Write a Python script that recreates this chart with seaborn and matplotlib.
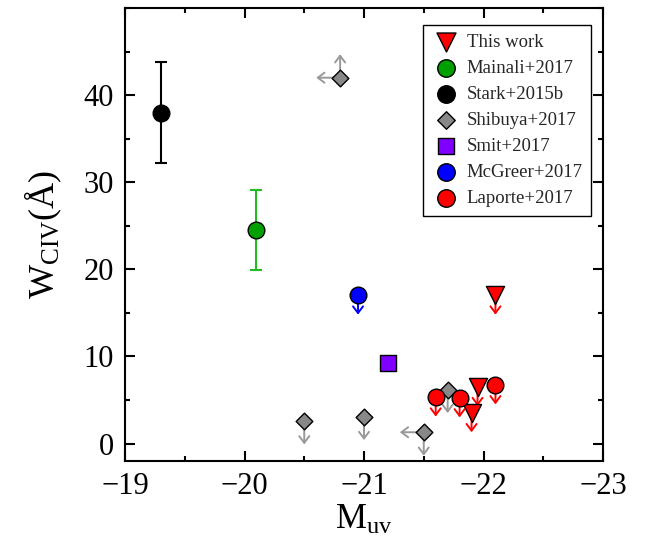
import matplotlib
matplotlib.use("Agg")
import matplotlib.pyplot as plt
import seaborn as sns
import numpy as np

# ---------------- data ----------------
this_work_muv = [-22.10, -21.95, -21.90]
this_work_w = [17.0, 6.5, 3.5]

mainali_muv = [-20.10]
mainali_w = [24.5]
mainali_err = [4.6]

stark_muv = [-19.30]
stark_w = [38.0]
stark_err = [5.8]

shibuya_muv = [-20.80, -20.50, -21.00, -21.50, -21.70]
shibuya_w = [42.0, 2.6, 3.1, 1.3, 6.2]
shibuya_left = [True, False, False, True, False]   # also limit in M_uv
shibuya_up = [True, False, False, False, False]    # lower limit in W

smit_muv = [-21.20]
smit_w = [9.2]

mcgreer_muv = [-20.95]
mcgreer_w = [17.0]

laporte_muv = [-21.60, -21.80, -22.10]
laporte_w = [5.3, 5.2, 6.7]

xticks = [-19, -20, -21, -22, -23]
yticks = [0, 10, 20, 30, 40]

# ---------------- style ----------------
sns.set_theme(style="ticks")
plt.rcParams["font.family"] = ["Liberation Serif", "DejaVu Serif"]
plt.rcParams["mathtext.fontset"] = "custom"
plt.rcParams["mathtext.rm"] = "Liberation Serif"
plt.rcParams["mathtext.it"] = "Liberation Serif:italic"

fig = plt.figure(figsize=(6.51, 5.53), dpi=100)
ax = fig.add_axes([125 / 651, 1 - 461 / 553, (603 - 125) / 651, (461 - 8) / 553])

ARW = dict(arrowstyle="->,head_length=0.4,head_width=0.3", lw=1.4, shrinkA=0, shrinkB=0)
dy_red = 2.2
dy_gray = 2.7
dx_gray = 0.2


def down_arrow(x, y, dy, color):
    ax.annotate("", xy=(x, y - dy), xytext=(x, y),
                arrowprops=dict(ARW, color=color), zorder=2)


def up_arrow(x, y, dy, color):
    ax.annotate("", xy=(x, y + dy), xytext=(x, y),
                arrowprops=dict(ARW, color=color), zorder=2)


def left_arrow(x, y, dx, color):
    ax.annotate("", xy=(x + dx, y), xytext=(x, y),
                arrowprops=dict(ARW, color=color), zorder=2)


# error bars
ax.errorbar(stark_muv, stark_w, yerr=stark_err, fmt="none", ecolor="black",
            elinewidth=1.5, capsize=4, capthick=1.5, zorder=2)
ax.errorbar(mainali_muv, mainali_w, yerr=mainali_err, fmt="none", ecolor="#22bb22",
            elinewidth=1.5, capsize=4, capthick=1.5, zorder=2)

# limit arrows
for x, y in zip(this_work_muv, this_work_w):
    down_arrow(x, y, dy_red, "red")
for x, y in zip(laporte_muv, laporte_w):
    down_arrow(x, y, dy_red, "red")
for x, y in zip(mcgreer_muv, mcgreer_w):
    down_arrow(x, y, dy_red, "blue")
for x, y, lf, up in zip(shibuya_muv, shibuya_w, shibuya_left, shibuya_up):
    if up:
        up_arrow(x, y, dy_gray, "#999999")
    else:
        down_arrow(x, y, dy_gray, "#999999")
    if lf:
        left_arrow(x, y, dx_gray, "#999999")

ms = 12
kw = dict(edgecolor="black", linewidth=1.0, zorder=3, ax=ax)
sns.scatterplot(x=this_work_muv, y=this_work_w, marker="v", s=(ms + 1) ** 2, color="red",
                label="This work", **kw)
sns.scatterplot(x=mainali_muv, y=mainali_w, marker="o", s=ms ** 2, color="#00a000",
                label="Mainali+2017", **kw)
sns.scatterplot(x=stark_muv, y=stark_w, marker="o", s=ms ** 2, color="black",
                label="Stark+2015b", **kw)
sns.scatterplot(x=shibuya_muv, y=shibuya_w, marker="D", s=8.5 ** 2, color="#888888",
                label="Shibuya+2017", **kw)
sns.scatterplot(x=smit_muv, y=smit_w, marker="s", s=11 ** 2, color="#8000ff",
                label="Smit+2017", **kw)
sns.scatterplot(x=mcgreer_muv, y=mcgreer_w, marker="o", s=ms ** 2, color="blue",
                label="McGreer+2017", **kw)
sns.scatterplot(x=laporte_muv, y=laporte_w, marker="o", s=ms ** 2, color="red",
                label="Laporte+2017", **kw)

# axes
ax.set_xlim(-19, -23)
ax.set_ylim(-2, 50)
ax.set_xticks(xticks)
ax.set_xticklabels([f"\u2212{abs(v)}" for v in xticks])
ax.set_yticks(yticks)
ax.xaxis.set_minor_locator(matplotlib.ticker.MultipleLocator(0.5))
ax.yaxis.set_minor_locator(matplotlib.ticker.MultipleLocator(5))
ax.tick_params(which="both", direction="in", top=True, right=True, width=1.5, color="black")
ax.tick_params(which="major", length=7, labelsize=22, pad=8, labelcolor="black")
ax.tick_params(which="minor", length=3.5)
for sp in ax.spines.values():
    sp.set_linewidth(1.5)
    sp.set_color("black")

ax.set_xlabel(r"M$_{\rm uv}$", fontsize=25, color="black", labelpad=2)
ax.set_ylabel(r"W$_{\rm CIV}$(Å)", fontsize=26, color="black", labelpad=14)

leg = ax.legend(loc="upper right", bbox_to_anchor=(0.975, 0.9625), fontsize=13.5,
                frameon=True, fancybox=False, edgecolor="black", framealpha=1,
                borderaxespad=0.0, handletextpad=0.35, labelspacing=0.48,
                borderpad=0.45, handlelength=1.5, markerscale=1.05)
leg.get_frame().set_linewidth(1.0)

fig.savefig("out.png", dpi=100)
